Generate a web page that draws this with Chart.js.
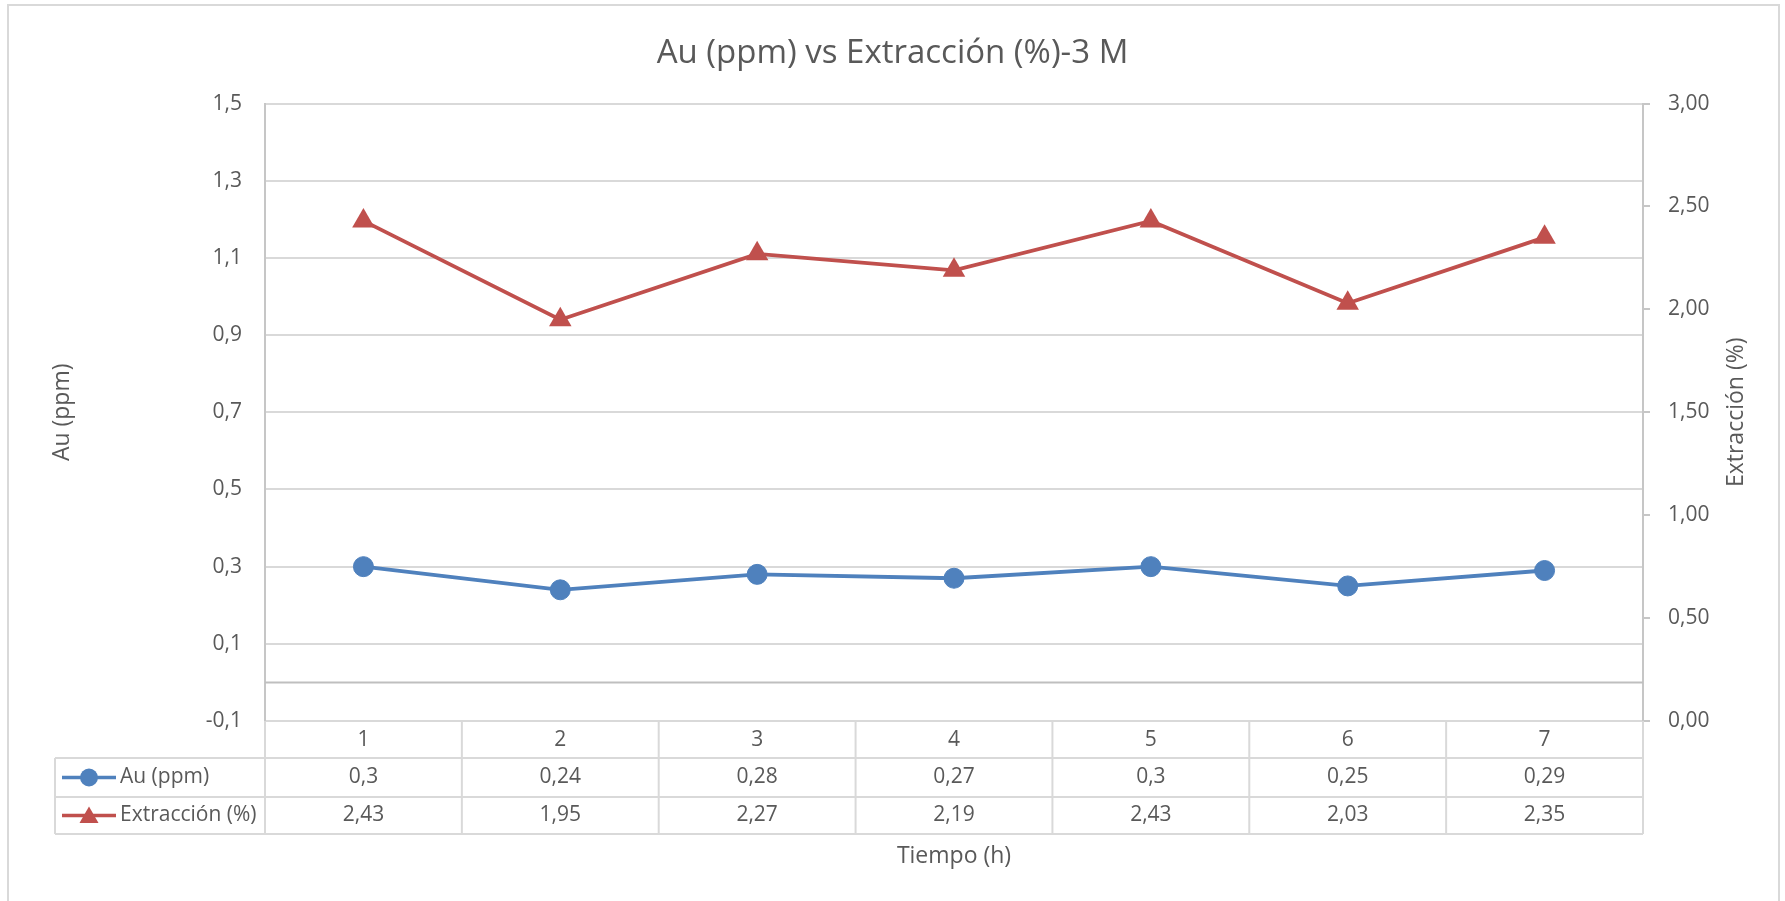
<!DOCTYPE html>
<html>
<head>
<meta charset="utf-8">
<title>Au (ppm) vs Extracción (%)-3 M</title>
<script src="https://cdn.jsdelivr.net/npm/chart.js@4.4.1/dist/chart.umd.min.js"></script>
<style>
    html, body { margin: 0; padding: 0; background: #ffffff; }
    #wrap { width: 1785px; height: 901px; }
</style>
</head>
<body>
<div id="wrap"><canvas id="auChart" width="1785" height="901"></canvas></div>
<script>
// Datos del ensayo
const tiempo = ['1', '2', '3', '4', '5', '6', '7'];
const auPpm = [0.3, 0.24, 0.28, 0.27, 0.3, 0.25, 0.29];
const extraccion = [2.43, 1.95, 2.27, 2.19, 2.43, 2.03, 2.35];
const auTicks = [-0.1, 0.1, 0.3, 0.5, 0.7, 0.9, 1.1, 1.3, 1.5];
const extTicks = [0, 0.5, 1, 1.5, 2, 2.5, 3];

const textColor = '#595959';
const gridColor = '#D9D9D9';
const axisColor = '#C6C6C6';
const fontFamily = "'Open Sans', sans-serif";
const azul = '#4F81BD';
const rojo = '#C0504D';

function coma(v, dec) {
    return v.toFixed(dec).replace('.', ',');
}

// Marco exterior, linea del cero, titulo derecho y tabla de datos
const tablaPlugin = {
    id: 'tablaDatos',
    beforeDraw(chart) {
        const ctx = chart.ctx;
        ctx.save();
        ctx.strokeStyle = '#D9D9D9';
        ctx.lineWidth = 2;
        ctx.strokeRect(8, 5, 1771, 920);
        ctx.restore();
    },
    beforeDatasetsDraw(chart) {
        const ctx = chart.ctx;
        const area = chart.chartArea;
        const y0 = chart.scales.y.getPixelForValue(0);
        ctx.save();
        ctx.strokeStyle = '#BFBFBF';
        ctx.lineWidth = 2;
        ctx.beginPath();
        ctx.moveTo(area.left, y0);
        ctx.lineTo(area.right, y0);
        ctx.stroke();
        ctx.restore();
    },
    afterDraw(chart) {
        const ctx = chart.ctx;
        const area = chart.chartArea;
        const x = chart.scales.x;
        const y1 = chart.scales.y1;
        const n = tiempo.length;

        // titulo del eje secundario, leido de abajo hacia arriba
        ctx.save();
        ctx.fillStyle = textColor;
        ctx.font = '23px ' + fontFamily;
        ctx.textAlign = 'center';
        ctx.textBaseline = 'middle';
        ctx.translate(y1.right - 49, (area.top + area.bottom) / 2);
        ctx.rotate(-Math.PI / 2);
        ctx.fillText('Extracción (%)', 0, 0);
        ctx.restore();

        const top = area.bottom;
        const fila1 = top + 37;
        const fila2 = fila1 + 39;
        const fin = fila2 + 37;
        const izq = 55;

        ctx.save();
        ctx.strokeStyle = gridColor;
        ctx.lineWidth = 2;
        ctx.beginPath();
        for (let i = 0; i <= n; i++) {
            const bx = x.getPixelForValue(i - 0.5);
            ctx.moveTo(bx, top);
            ctx.lineTo(bx, fin);
        }
        ctx.moveTo(izq, fila1);
        ctx.lineTo(izq, fin);
        [fila1, fila2, fin].forEach(function (yy) {
            ctx.moveTo(izq, yy);
            ctx.lineTo(area.right, yy);
        });
        ctx.stroke();

        // leyenda dentro de la tabla
        const series = [
            { nombre: 'Au (ppm)', color: azul, forma: 'circle', radio: 9, datos: auPpm },
            { nombre: 'Extracción (%)', color: rojo, forma: 'triangle', radio: 11, datos: extraccion }
        ];
        const filas = [fila1, fila2, fin];
        series.forEach(function (s, k) {
            const cy = (filas[k] + filas[k + 1]) / 2;
            ctx.strokeStyle = s.color;
            ctx.lineWidth = 3.5;
            ctx.beginPath();
            ctx.moveTo(62, cy);
            ctx.lineTo(116, cy);
            ctx.stroke();
            ctx.fillStyle = s.color;
            Chart.helpers.drawPoint(ctx, { pointStyle: s.forma, radius: s.radio, borderWidth: 0 }, 89, cy + (s.forma === 'triangle' ? 2 : 0));
            ctx.fillStyle = textColor;
            ctx.font = '21px ' + fontFamily;
            ctx.textAlign = 'left';
            ctx.textBaseline = 'middle';
            ctx.fillText(s.nombre, 120, cy);
            ctx.textAlign = 'center';
            s.datos.forEach(function (v, i) {
                ctx.fillText(String(v).replace('.', ','), x.getPixelForValue(i), cy);
            });
        });
        ctx.restore();
    }
};

const ctx = document.getElementById('auChart').getContext('2d');
const auChart = new Chart(ctx, {
    type: 'line',
    data: {
        labels: tiempo,
        datasets: [{
            label: 'Au (ppm)',
            data: auPpm,
            yAxisID: 'y',
            borderColor: azul,
            backgroundColor: azul,
            borderWidth: 3.8,
            pointStyle: 'circle',
            pointRadius: 10,
            pointBorderWidth: 1,
            pointHoverRadius: 10,
            tension: 0
        }, {
            label: 'Extracción (%)',
            data: extraccion,
            yAxisID: 'y1',
            borderColor: rojo,
            backgroundColor: rojo,
            borderWidth: 3.8,
            pointStyle: 'triangle',
            pointRadius: 13,
            pointBorderWidth: 0,
            pointHoverRadius: 13,
            tension: 0
        }]
    },
    options: {
        responsive: false,
        animation: false,
        layout: { padding: 0 },
        plugins: {
            legend: { display: false },
            tooltip: { enabled: false },
            title: {
                display: true,
                text: 'Au (ppm) vs Extracción (%)-3 M',
                color: textColor,
                font: { family: fontFamily, size: 33, weight: 'normal', lineHeight: 1.2 },
                padding: { top: 34, bottom: 30 }
            }
        },
        scales: {
            x: {
                type: 'category',
                offset: true,
                afterFit: function (s) { s.height = 180; },
                grid: { display: false, drawTicks: false },
                border: { display: false },
                ticks: {
                    color: textColor,
                    padding: 6,
                    font: { family: fontFamily, size: 21 }
                },
                title: {
                    display: true,
                    text: 'Tiempo (h)',
                    color: textColor,
                    font: { family: fontFamily, size: 23 },
                    padding: { top: 0, bottom: 31 }
                }
            },
            y: {
                position: 'left',
                min: -0.1,
                max: 1.5,
                afterFit: function (s) { s.width = 265; },
                afterBuildTicks: function (s) { s.ticks = auTicks.map(function (v) { return { value: v }; }); },
                grid: { color: gridColor, lineWidth: 2, drawTicks: false },
                border: { display: true, color: axisColor, width: 2 },
                ticks: {
                    color: textColor,
                    padding: 23,
                    font: { family: fontFamily, size: 21 },
                    callback: function (v) { return coma(v, 1); }
                },
                title: {
                    display: true,
                    text: 'Au (ppm)',
                    color: textColor,
                    font: { family: fontFamily, size: 23 },
                    padding: { top: 49, bottom: 0 }
                }
            },
            y1: {
                position: 'right',
                min: 0,
                max: 3,
                afterFit: function (s) { s.width = 142; },
                afterBuildTicks: function (s) { s.ticks = extTicks.map(function (v) { return { value: v }; }); },
                grid: { drawOnChartArea: false, drawTicks: true, tickLength: 7, tickColor: axisColor, lineWidth: 2 },
                border: { display: true, color: axisColor, width: 2 },
                ticks: {
                    color: textColor,
                    padding: 18,
                    font: { family: fontFamily, size: 21 },
                    callback: function (v) { return coma(v, 2); }
                }
            }
        }
    },
    plugins: [tablaPlugin]
});
</script>
</body>
</html>
